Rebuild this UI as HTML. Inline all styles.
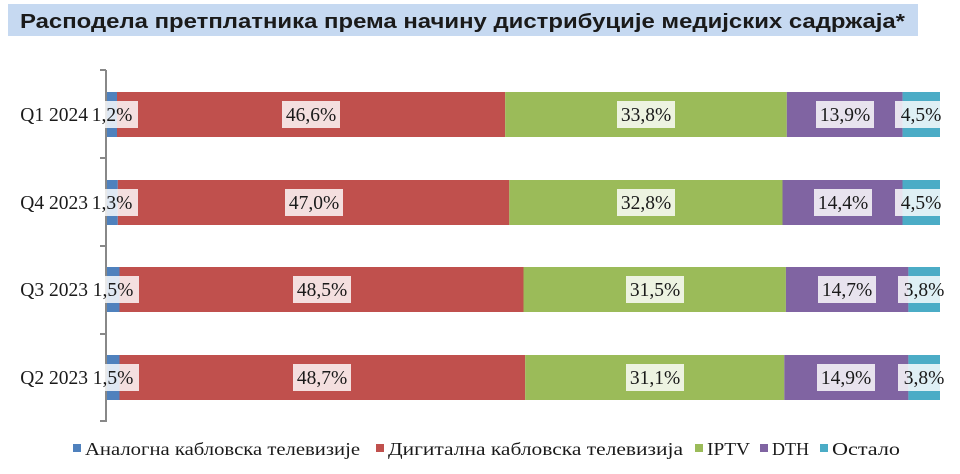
<!DOCTYPE html>
<html><head><meta charset="utf-8"><style>
body{margin:0;background:#fff;}
svg{display:block;}
.c{font-family:"Liberation Serif",serif;font-size:19.5px;fill:#1a1a1a;}
.l{font-family:"Liberation Serif",serif;font-size:18px;fill:#1a1a1a;}
</style></head><body>
<svg width="960" height="474" viewBox="0 0 960 474" xmlns="http://www.w3.org/2000/svg">
<rect x="8" y="4" width="910" height="32" fill="#c6d9f1"/>
<text x="20" y="28" textLength="885" lengthAdjust="spacingAndGlyphs" font-family="Liberation Sans,sans-serif" font-weight="bold" font-size="20" fill="#1a1a1a">Расподела претплатника према начину дистрибуције медијских садржаја*</text>
<g stroke="#888" stroke-width="2">
<line x1="106" y1="70" x2="106" y2="422"/>
<line x1="100" y1="70" x2="106" y2="70"/><line x1="100" y1="158" x2="106" y2="158"/>
<line x1="100" y1="246" x2="106" y2="246"/><line x1="100" y1="334" x2="106" y2="334"/>
<line x1="100" y1="421" x2="106" y2="421"/>
</g>
<g>
<rect x="107" y="92" width="10" height="45" fill="#4f81bd"/>
<rect x="117" y="92" width="388.2" height="45" fill="#c0504d"/>
<rect x="505.2" y="92" width="281.6" height="45" fill="#9bbb59"/>
<rect x="786.8" y="92" width="115.8" height="45" fill="#8064a2"/>
<rect x="902.6" y="92" width="37.4" height="45" fill="#4bacc6"/>
</g>
<g>
<rect x="107" y="180" width="10.8" height="45" fill="#4f81bd"/>
<rect x="117.8" y="180" width="391.5" height="45" fill="#c0504d"/>
<rect x="509.3" y="180" width="273.2" height="45" fill="#9bbb59"/>
<rect x="782.5" y="180" width="120" height="45" fill="#8064a2"/>
<rect x="902.5" y="180" width="37.5" height="45" fill="#4bacc6"/>
</g>
<g>
<rect x="107" y="267" width="12.5" height="45" fill="#4f81bd"/>
<rect x="119.5" y="267" width="404" height="45" fill="#c0504d"/>
<rect x="523.5" y="267" width="262.4" height="45" fill="#9bbb59"/>
<rect x="785.9" y="267" width="122.5" height="45" fill="#8064a2"/>
<rect x="908.4" y="267" width="31.6" height="45" fill="#4bacc6"/>
</g>
<g>
<rect x="107" y="355" width="12.5" height="45" fill="#4f81bd"/>
<rect x="119.5" y="355" width="405.7" height="45" fill="#c0504d"/>
<rect x="525.2" y="355" width="259.1" height="45" fill="#9bbb59"/>
<rect x="784.3" y="355" width="124.1" height="45" fill="#8064a2"/>
<rect x="908.4" y="355" width="31.6" height="45" fill="#4bacc6"/>
</g>
<g fill="#fff" fill-opacity="0.82">
<rect x="86" y="101" width="52" height="27"/><rect x="282" y="101" width="58" height="27"/><rect x="617" y="101" width="58" height="27"/><rect x="816" y="101" width="58" height="27"/><rect x="895" y="101" width="52" height="27"/>
<rect x="86" y="189" width="52" height="27"/><rect x="285" y="189" width="58" height="27"/><rect x="617" y="189" width="58" height="27"/><rect x="814" y="189" width="58" height="27"/><rect x="895" y="189" width="52" height="27"/>
<rect x="87" y="276" width="52" height="27"/><rect x="293" y="276" width="58" height="27"/><rect x="626" y="276" width="58" height="27"/><rect x="818" y="276" width="58" height="27"/><rect x="898" y="276" width="52" height="27"/>
<rect x="87" y="364" width="52" height="27"/><rect x="293" y="364" width="58" height="27"/><rect x="626" y="364" width="58" height="27"/><rect x="817" y="364" width="58" height="27"/><rect x="898" y="364" width="52" height="27"/>
</g>
<g class="c" text-anchor="middle">
<text x="112" y="121">1,2%</text><text x="311" y="121">46,6%</text><text x="646" y="121">33,8%</text><text x="845" y="121">13,9%</text><text x="921" y="121">4,5%</text>
<text x="112" y="209">1,3%</text><text x="314" y="209">47,0%</text><text x="646" y="209">32,8%</text><text x="843" y="209">14,4%</text><text x="921" y="209">4,5%</text>
<text x="113" y="296">1,5%</text><text x="322" y="296">48,5%</text><text x="655" y="296">31,5%</text><text x="847" y="296">14,7%</text><text x="924" y="296">3,8%</text>
<text x="113" y="384">1,5%</text><text x="322" y="384">48,7%</text><text x="655" y="384">31,1%</text><text x="846" y="384">14,9%</text><text x="924" y="384">3,8%</text>
</g>
<g class="c" text-anchor="end">
<text x="88" y="121">Q1 2024</text><text x="88" y="209">Q4 2023</text><text x="88" y="296">Q3 2023</text><text x="88" y="384">Q2 2023</text>
</g>
<rect x="73" y="444" width="8" height="8" fill="#4f81bd"/>
<text class="l" x="85" y="455" textLength="275" lengthAdjust="spacingAndGlyphs">Аналогна кабловска телевизије</text>
<rect x="376" y="444" width="8" height="8" fill="#c0504d"/>
<text class="l" x="388" y="455" textLength="295" lengthAdjust="spacingAndGlyphs">Дигитална кабловска телевизија</text>
<rect x="695" y="444" width="8" height="8" fill="#9bbb59"/>
<text class="l" x="707" y="455" textLength="43" lengthAdjust="spacingAndGlyphs">IPTV</text>
<rect x="760" y="444" width="8" height="8" fill="#8064a2"/>
<text class="l" x="772" y="455" textLength="37" lengthAdjust="spacingAndGlyphs">DTH</text>
<rect x="820" y="444" width="8" height="8" fill="#4bacc6"/>
<text class="l" x="832" y="455" textLength="68" lengthAdjust="spacingAndGlyphs">Остало</text>
</svg>
</body></html>
